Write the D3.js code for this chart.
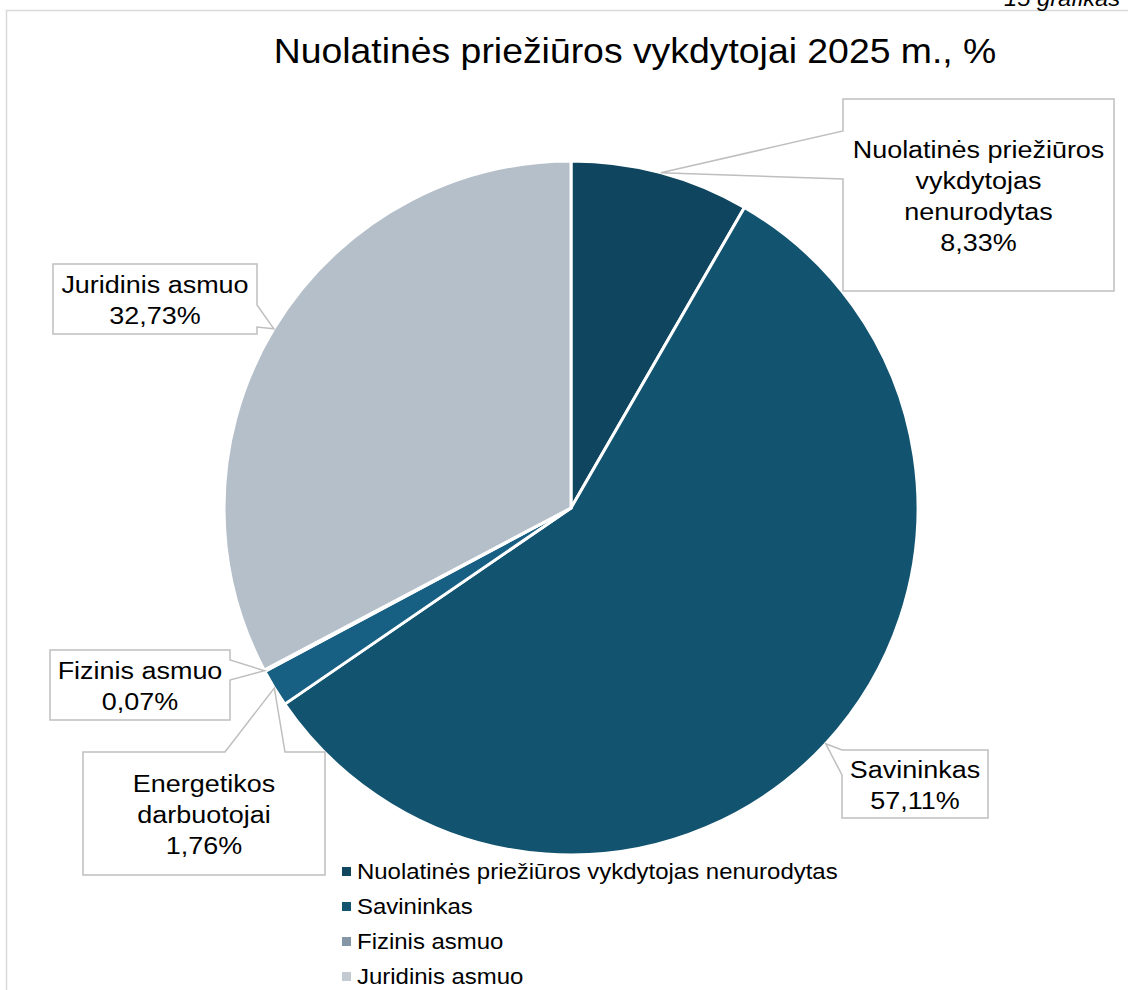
<!DOCTYPE html>
<html>
<head>
<meta charset="utf-8">
<script src="https://cdn.jsdelivr.net/npm/d3@7"></script>
<style>
  body { margin: 0; background: #fff; overflow: hidden; }
  text { font-family: "Liberation Sans", Arial, sans-serif; fill: #000; }
</style>
</head>
<body>
<div id="chart"></div>
<script>
// data
var title = "Nuolatinės priežiūros vykdytojai 2025 m., %"
var figureNote = "15 grafikas"
var categories = ["Nuolatinės priežiūros vykdytojas nenurodytas", "Savininkas", "Energetikos darbuotojai", "Fizinis asmuo", "Juridinis asmuo"]
var shares = [8.33, 57.11, 1.76, 0.07, 32.73]
var legendItems = ["Nuolatinės priežiūros vykdytojas nenurodytas", "Savininkas", "Fizinis asmuo", "Juridinis asmuo"]
// how each data label is wrapped
var labelLines = [["Nuolatinės priežiūros", "vykdytojas", "nenurodytas"], ["Savininkas"], ["Energetikos", "darbuotojai"], ["Fizinis asmuo"], ["Juridinis asmuo"]]

var sliceColors = ["#0f455e", "#12536f", "#176083", "#7f95a7", "#b5bfc9"]
var legendColors = {"Nuolatinės priežiūros vykdytojas nenurodytas": "#10465e", "Savininkas": "#135471", "Fizinis asmuo": "#8596a6", "Juridinis asmuo": "#c3cad2"}

// callout boxes (layout only)
var boxes = [
    {x: 843, y: 99, w: 271, h: 192, side: "left", s1: 131, s2: 179},
    {x: 842, y: 750, w: 146, h: 68, side: "left", s1: 750, s2: 775},
    {x: 83, y: 752, w: 242, h: 123, side: "top", s1: 225, s2: 285},
    {x: 50, y: 650, w: 180, h: 70, side: "right", s1: 660, s2: 680},
    {x: 53, y: 264, w: 204, h: 70, side: "right", s1: 305, s2: 327}
]

var width = 1128, height = 990
var cx = 571, cy = 508, radius = 347
// the reference font renders a bit wider than Liberation Sans
var stretch = 1.08

var svg = d3.select("#chart").append("svg")
    .attr("width", width)
    .attr("height", height)

// chart area border
svg.append("rect")
    .attr("x", 6.5).attr("y", 10.5)
    .attr("width", 1300).attr("height", 1300)
    .style("fill", "none")
    .style("stroke", "#d9d9d9")
    .style("stroke-width", 1.5)

svg.append("text")
    .attr("transform", "translate(1004,6) scale(" + stretch + ",1)")
    .style("font-size", "22px")
    .style("font-style", "italic")
    .text(figureNote)

svg.append("text")
    .attr("transform", "translate(635,63) scale(1.068,1)")
    .attr("text-anchor", "middle")
    .style("font-size", "35px")
    .text(title)

var pie = d3.pie().sort(null).value(function(d) { return d; })
var arcs = pie(shares)
var arc = d3.arc().innerRadius(0).outerRadius(radius)
var edge = d3.arc().innerRadius(radius).outerRadius(radius)

var g = svg.append("g").attr("transform", "translate(" + cx + "," + cy + ")")

g.selectAll("path")
    .data(arcs)
    .enter()
    .append("path")
    .attr("d", arc)
    .style("fill", function(d, i) { return sliceColors[i]; })
    .style("stroke", "#fff")
    .style("stroke-width", 3)
    .style("stroke-linejoin", "round")

// callout shape: box with a pointer going to the slice edge
function calloutPath(b, tip) {
    var p = d3.path()
    p.moveTo(b.x, b.y)
    if (b.side == "top") { p.lineTo(b.s1, b.y); p.lineTo(tip[0], tip[1]); p.lineTo(b.s2, b.y) }
    p.lineTo(b.x + b.w, b.y)
    if (b.side == "right") { p.lineTo(b.x + b.w, b.s1); p.lineTo(tip[0], tip[1]); p.lineTo(b.x + b.w, b.s2) }
    p.lineTo(b.x + b.w, b.y + b.h)
    p.lineTo(b.x, b.y + b.h)
    if (b.side == "left") { p.lineTo(b.x, b.s2); p.lineTo(tip[0], tip[1]); p.lineTo(b.x, b.s1) }
    p.closePath()
    return p.toString()
}

var fmt = function(v) { return d3.format(".2f")(v).replace(".", ",") + "%"; }
var lineH = 31

arcs.forEach(function(d, i) {
    var c = edge.centroid(d)
    var tip = [cx + c[0], cy + c[1]]
    var b = boxes[i]
    svg.append("path")
        .attr("d", calloutPath(b, tip))
        .style("fill", "#fff")
        .style("stroke", "#bfbfbf")
        .style("stroke-width", 1.5)
    var lines = labelLines[i].concat([fmt(shares[i])])
    var y0 = b.y + b.h / 2 - lines.length * lineH / 2 + 25
    var t = svg.append("text")
        .attr("text-anchor", "middle")
        .attr("transform", "translate(" + (b.x + b.w / 2) + ",0) scale(1.1,1)")
        .style("font-size", "24.5px")
    lines.forEach(function(l, k) {
        t.append("tspan")
            .attr("x", 0)
            .attr("y", y0 + k * lineH)
            .text(l)
    })
})

// legend
var legend = svg.append("g").attr("transform", "translate(342,879)")
var rows = legend.selectAll("g")
    .data(legendItems)
    .enter()
    .append("g")
    .attr("transform", function(d, i) { return "translate(0," + (i * 35) + ")"; })
rows.append("rect")
    .attr("x", 0).attr("y", -12)
    .attr("width", 9).attr("height", 9)
    .style("fill", function(d) { return legendColors[d]; })
rows.append("text")
    .attr("transform", "translate(15,0) scale(1.065,1)")
    .style("font-size", "22.5px")
    .text(function(d) { return d; })
</script>
</body>
</html>
